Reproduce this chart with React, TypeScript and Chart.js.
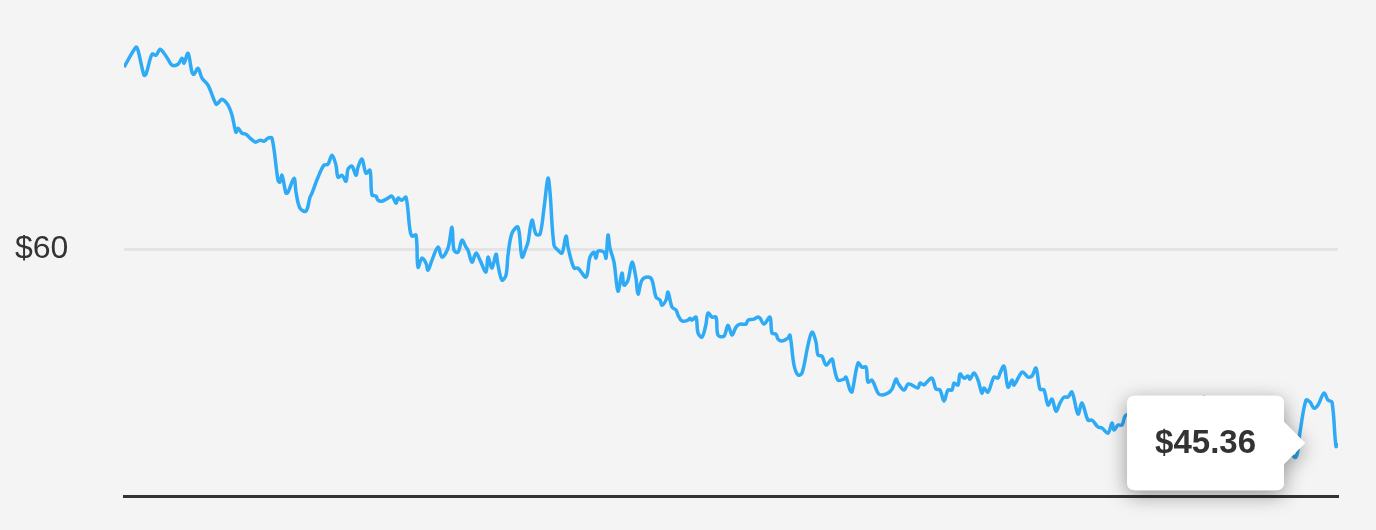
import React, { useEffect, useRef } from "react";
import { Chart, registerables } from "chart.js";

Chart.register(...registerables);

const times = [
  0, 6, 7, 10, 11, 14, 16, 18, 20, 22, 24, 27, 29, 30, 32, 34, 35, 37, 39, 42,
  46, 47, 49, 52, 54, 56, 57, 59, 61, 63, 65, 66, 68, 70, 72, 74, 77, 78, 79, 81,
  82, 85, 86, 88, 91, 93, 94, 97, 100, 102, 104, 106, 107, 109, 111, 112, 114, 116, 117, 119,
  121, 123, 124, 126, 127, 129, 132, 134, 136, 137, 139, 141, 143, 144, 146, 147, 149, 151, 152, 154,
  157, 159, 162, 164, 165, 167, 169, 171, 172, 174, 176, 178, 181, 182, 184, 186, 187, 189, 191, 192,
  194, 197, 199, 201, 202, 204, 206, 208, 210, 212, 213, 215, 217, 219, 221, 222, 225, 227, 231, 233,
  235, 236, 237, 240, 241, 242, 243, 245, 247, 249, 250, 252, 254, 256, 257, 259, 262, 264, 266, 268,
  269, 271, 272, 274, 276, 277, 279, 282, 283, 284, 286, 287, 289, 291, 292, 294, 296, 297, 300, 302,
  304, 306, 308, 311, 312, 315, 317, 318, 320, 323, 324, 326, 327, 329, 332, 333, 335, 337, 339, 342,
  344, 346, 347, 349, 351, 354, 355, 357, 360, 361, 363, 364, 367, 369, 371, 372, 374, 377, 379, 382,
  384, 386, 387, 390, 392, 394, 397, 398, 400, 401, 404, 406, 408, 410, 412, 414, 415, 417, 418, 420,
  422, 423, 425, 427, 429, 430, 432, 435, 437, 438, 440, 442, 444, 445, 449, 451, 452, 454, 456, 458,
  460, 462, 464, 466, 468, 470, 472, 474, 477, 479, 482, 484, 487, 489, 492, 494, 495, 497, 499, 501,
  506, 511, 516, 521, 526, 531, 536, 540, 543, 548, 553, 558, 563, 568, 573, 578, 582, 586, 588, 591,
  593, 595, 597, 600, 602, 604, 606, 607,
];

const prices = [
  73.74, 75.25, 75.02, 73.13, 73.21, 74.72, 74.64, 75.09, 74.79, 74.34, 73.89, 73.96, 74.42, 74.04, 74.79, 73.36, 73.21, 73.66, 72.91, 72.38,
  70.94, 71.02, 71.32, 70.87, 70.11, 68.83, 69.13, 68.75, 68.68, 68.38, 68.15, 68.08, 68.23, 68.15, 68.38, 68.38, 65.21, 65.06, 65.58, 64.23,
  64.3, 65.36, 64.3, 63.09, 62.87, 63.92, 64.23, 65.43, 66.34, 66.42, 67.09, 66.34, 65.43, 65.58, 65.13, 66.04, 66.26, 65.58, 66.19, 66.79,
  65.74, 65.96, 64.08, 64.0, 63.7, 63.62, 63.85, 64.0, 63.47, 63.85, 63.7, 63.92, 61.43, 60.98, 61.06, 58.64, 59.32, 58.94, 58.42, 59.17,
  60.15, 59.4, 60.08, 61.66, 59.92, 59.77, 60.68, 60.15, 59.92, 59.02, 59.7, 59.17, 58.26, 59.4, 58.57, 59.62, 58.79, 57.66, 58.04, 59.55,
  61.21, 61.66, 59.4, 60.08, 60.53, 62.19, 61.13, 61.13, 63.09, 65.36, 64.3, 60.3, 59.92, 59.7, 60.98, 60.15, 58.57, 58.57, 57.89, 59.4,
  59.77, 59.32, 59.85, 59.77, 59.32, 61.06, 60.08, 59.02, 56.83, 58.19, 57.28, 57.66, 59.02, 57.81, 56.6, 57.66, 57.89, 57.66, 56.38, 56.15,
  55.77, 56.15, 56.75, 55.62, 55.4, 55.02, 54.57, 54.64, 54.79, 54.64, 54.87, 53.66, 53.36, 54.34, 55.17, 54.87, 54.87, 53.51, 53.43, 54.26,
  53.51, 54.11, 54.34, 54.34, 54.64, 54.72, 54.87, 54.79, 54.34, 54.87, 53.66, 53.58, 53.21, 53.06, 53.28, 53.51, 51.25, 50.49, 50.64, 52.75,
  53.74, 52.98, 52.0, 51.92, 51.25, 51.7, 51.09, 50.11, 50.19, 50.34, 49.36, 49.21, 51.4, 51.09, 51.09, 49.96, 50.11, 49.13, 48.98, 49.13,
  49.43, 50.19, 49.89, 49.36, 49.81, 49.74, 49.51, 49.89, 49.74, 49.89, 50.26, 49.43, 49.36, 48.53, 49.36, 49.36, 49.89, 49.74, 50.57, 50.26,
  50.42, 50.19, 50.64, 50.11, 49.13, 49.51, 49.21, 50.34, 50.26, 50.64, 51.17, 49.58, 50.11, 49.74, 50.72, 50.49, 50.34, 50.42, 51.02, 49.43,
  49.36, 48.23, 48.68, 47.77, 48.38, 48.83, 48.83, 49.21, 47.55, 48.38, 47.09, 47.09, 46.57, 46.49, 46.11, 46.87, 46.34, 46.72, 46.72, 47.47,
  47.09, 47.7, 46.72, 47.47, 46.94, 47.85, 47.47, 48.83, 47.25, 46.72, 47.47, 46.49, 47.09, 46.19, 46.72, 45.74, 44.83, 44.3, 46.19, 48.6,
  48.45, 48.0, 48.23, 49.13, 48.6, 48.45, 45.1, 45.36,
];

const yTickValues = [60];
const yMin = 41.36;
const yMax = 77;

const FONT = "'Liberation Sans', Arial, Helvetica, sans-serif";

export default function App() {
  const canvasRef = useRef<HTMLCanvasElement | null>(null);

  useEffect(() => {
    const canvas = canvasRef.current;
    if (!canvas) return;

    const points = times.map((t, i) => ({ x: t, y: prices[i] }));
    const lastIndex = points.length - 1;

    const shadowPlugin = {
      id: "tooltipShadow",
      beforeTooltipDraw(chart: any, args: any) {
        const tt = args.tooltip;
        if (!tt || !tt.opacity) return;
        const ctx = chart.ctx;
        const x = tt.x, y = tt.y, w = tt.width, h = tt.height, r = 8;
        const cs = tt.options.caretSize;
        const cy = tt.caretY;
        ctx.save();
        ctx.shadowColor = "rgba(0,0,0,0.4)";
        ctx.shadowBlur = 20;
        ctx.shadowOffsetY = 5;
        ctx.fillStyle = "#ffffff";
        ctx.beginPath();
        ctx.moveTo(x + r, y);
        ctx.lineTo(x + w - r, y);
        ctx.quadraticCurveTo(x + w, y, x + w, y + r);
        ctx.lineTo(x + w, cy - cs);
        ctx.lineTo(x + w + cs, cy);
        ctx.lineTo(x + w, cy + cs);
        ctx.lineTo(x + w, y + h - r);
        ctx.quadraticCurveTo(x + w, y + h, x + w - r, y + h);
        ctx.lineTo(x + r, y + h);
        ctx.quadraticCurveTo(x, y + h, x, y + h - r);
        ctx.lineTo(x, y + r);
        ctx.quadraticCurveTo(x, y, x + r, y);
        ctx.closePath();
        ctx.fill();
        ctx.restore();
      },
    };

    const chart = new Chart(canvas, {
      type: "line",
      data: {
        datasets: [
          {
            data: points,
            borderColor: "#2fabf6",
            borderWidth: 3.5,
            pointRadius: 0,
            pointHoverRadius: 0,
            pointHitRadius: 0,
            tension: 0.35,
            fill: false,
          },
        ],
      },
      options: {
        responsive: false,
        animation: false,
        events: [],
        layout: { padding: { left: 15, right: 38, top: 24, bottom: 0 } },
        plugins: {
          legend: { display: false },
          title: { display: false },
          tooltip: {
            enabled: true,
            xAlign: "right",
            yAlign: "center",
            displayColors: false,
            backgroundColor: "#ffffff",
            bodyColor: "#333333",
            bodyFont: { family: FONT, size: 33, weight: "bold" },
            padding: { left: 28, right: 28, top: 28, bottom: 27 },
            cornerRadius: 8,
            caretSize: 21,
            caretPadding: 33,
            callbacks: {
              title: () => "",
              label: (item: any) => "$" + Number(item.parsed.y).toFixed(2),
            },
          },
        },
        scales: {
          x: {
            type: "linear",
            min: times[0],
            max: times[times.length - 1],
            grid: { display: false, drawTicks: false },
            ticks: { display: false },
            border: { display: true, color: "#333333", width: 3 },
            afterFit: (scale: any) => {
              scale.height = 34;
            },
          },
          y: {
            type: "linear",
            min: yMin,
            max: yMax,
            afterBuildTicks: (scale: any) => {
              scale.ticks = yTickValues.map((v) => ({ value: v }));
            },
            afterFit: (scale: any) => {
              scale.width = 109;
            },
            grid: { color: "#e4e4e4", lineWidth: 3, drawTicks: false },
            border: { display: false },
            ticks: {
              crossAlign: "far",
              color: "#333333",
              font: { family: FONT, size: 32 },
              callback: (v: any) => "$" + v,
            },
          },
        },
      },
      plugins: [shadowPlugin],
    } as any);

    chart.tooltip?.setActiveElements([{ datasetIndex: 0, index: lastIndex }], { x: 0, y: 0 });
    chart.update();

    return () => {
      chart.destroy();
    };
  }, []);

  return (
    <div
      style={{
        position: "fixed",
        left: 0,
        top: 0,
        width: 1376,
        height: 530,
        background: "#f4f4f4",
      }}
    >
      <canvas ref={canvasRef} width={1376} height={530} style={{ width: 1376, height: 530, display: "block" }} />
    </div>
  );
}
